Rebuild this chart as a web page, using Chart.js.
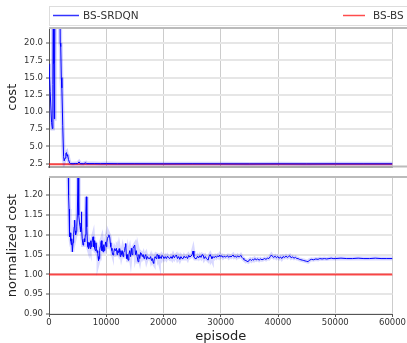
<!DOCTYPE html>
<html>
<head>
<meta charset="utf-8">
<script src="https://cdn.jsdelivr.net/npm/chart.js@4.4.1/dist/chart.umd.min.js"></script>
<style>
html, body { margin: 0; padding: 0; background: #fff; }
#wrap { position: relative; width: 407px; height: 343px; overflow: hidden; }
#chart_cost { position: absolute; left: 0; top: 0; }
#chart_norm { position: absolute; left: 0; top: 170px; }
</style>
</head>
<body>
<div id="wrap">
  <canvas id="chart_cost" width="407" height="170"></canvas>
  <canvas id="chart_norm" width="407" height="173"></canvas>
</div>
<script>
// ---- data ----
var episodeTicks = [0, 10000, 20000, 30000, 40000, 50000, 60000];
var costTicks = [2.5, 5.0, 7.5, 10.0, 12.5, 15.0, 17.5, 20.0];
var normTicks = [0.90, 0.95, 1.00, 1.05, 1.10, 1.15, 1.20];

var baselineEpisodes = [0, 60000];
var baselineCost = [2.4, 2.4];
var baselineNorm = [1.0, 1.0];

var costEpisodes = [0, 200, 450, 580, 680, 760, 820, 860, 930, 990, 1060, 1500, 1900, 1960, 2050, 2150,
  2250, 2400, 2550, 2650, 2800, 2950, 3050, 3150, 3250, 3400, 3600, 3800, 4200, 4600, 5000, 5250,
  5450, 6000, 6450, 6600, 7000, 8000, 9000, 10000, 12000, 15000, 20000, 25000, 30000, 35000, 40000,
  45000, 50000, 55000, 60000];
var costValues = [17.0, 13.0, 8.5, 7.6, 14.0, 30.0, 30.0, 17.0, 9.0, 17.0, 30.0, 40.0, 30.0, 20.0, 19.5, 15.0,
  13.5, 8.0, 3.5, 2.9, 3.3, 4.0, 4.1, 3.6, 3.8, 3.1, 2.6, 2.5, 2.48, 2.52, 2.52, 2.75,
  2.5, 2.48, 2.62, 2.5, 2.5, 2.5, 2.49, 2.5, 2.48, 2.48, 2.47, 2.48, 2.47, 2.46, 2.47,
  2.46, 2.47, 2.47, 2.47];

var normEpisodes = [3320, 3420, 3500, 3560, 3610, 3700, 3800, 3900, 3980, 4080, 4200, 4300, 4400, 4485, 4560, 4650,
  4776, 4850, 4950, 5070, 5150, 5240, 5330, 5430, 5530, 5600, 5650, 5720, 5800, 5940, 6050, 6150,
  6230, 6350, 6450, 6520, 6600, 6700, 6800, 6900, 7000, 7100, 7200, 7300, 7400, 7500, 7600, 7690,
  7800, 7900, 7980, 8100, 8200, 8300, 8400, 8500, 8560, 8650, 8740, 8850, 8950, 9050, 9150, 9250,
  9350, 9440, 9550, 9650, 9750, 9900, 10000, 10100, 10200, 10310, 10450, 10600, 10700, 10800, 10890, 11000,
  11100, 11180, 11300, 11450, 11600, 11770, 11900, 12000, 12150, 12250, 12350, 12450, 12550, 12650, 12800, 12930,
  13050, 13200, 13300, 13400, 13500, 13600, 13700, 13800, 13950, 14100, 14250, 14390, 14500, 14650, 14800, 14970,
  15100, 15250, 15400, 15550, 15700, 15850, 16000, 16140, 16300, 16450, 16600, 16720, 16900, 17050, 17200, 17400,
  17590, 17750, 17900, 18050, 18200, 18290, 18400, 18550, 18700, 18850, 19050, 19200, 19400, 19600, 19750, 19920,
  20100, 20300, 20500, 20700, 20900, 21090, 21300, 21500, 21700, 21900, 22050, 22250, 22450, 22650, 22850, 23050,
  23250, 23420, 23600, 23800, 24000, 24200, 24400, 24600, 24800, 25000, 25160, 25300, 25500, 25750, 25950, 26150,
  26350, 26550, 26750, 26910, 27100, 27300, 27500, 27650, 27790, 27950, 28150, 28300, 28450, 28660, 28850, 29050,
  29250, 29450, 29650, 29820, 30000, 30200, 30400, 30600, 30800, 30990, 31200, 31400, 31600, 31800, 32000, 32150,
  32350, 32550, 32750, 32950, 33150, 33320, 33500, 33700, 33900, 34050, 34190, 34400, 34600, 34780, 34950, 35150,
  35350, 35550, 35750, 35940, 36200, 36450, 36700, 36950, 37200, 37400, 37650, 37900, 38150, 38400, 38650, 38850,
  39050, 39250, 39500, 39730, 39950, 40200, 40450, 40650, 40890, 41150, 41400, 41650, 41850, 42060, 42300, 42550,
  42800, 43050, 43300, 43510, 43750, 44000, 44250, 44500, 44750, 45000, 45260, 45500, 45840, 46200, 46600, 47000,
  47300, 47700, 48100, 48500, 48900, 49300, 49630, 50000, 51000, 52000, 53000, 54000, 55000, 56000, 57000, 58000,
  59000, 60000];
var normValues = [1.30, 1.20, 1.165, 1.12, 1.095, 1.105, 1.085, 1.075, 1.09, 1.057, 1.08, 1.10, 1.12, 1.137, 1.11, 1.10,
  1.108, 1.12, 1.15, 1.26, 1.20, 1.15, 1.13, 1.12, 1.108, 1.13, 1.158, 1.12, 1.09, 1.074, 1.08, 1.09,
  1.082, 1.10, 1.16, 1.196, 1.12, 1.082, 1.07, 1.065, 1.08, 1.074, 1.065, 1.085, 1.07, 1.08, 1.09, 1.095,
  1.07, 1.085, 1.066, 1.06, 1.08, 1.065, 1.055, 1.06, 1.045, 1.035, 1.04, 1.06, 1.07, 1.08, 1.085, 1.06,
  1.07, 1.057, 1.075, 1.06, 1.07, 1.082, 1.07, 1.08, 1.09, 1.095, 1.10, 1.095, 1.08, 1.07, 1.066, 1.06,
  1.05, 1.049, 1.055, 1.065, 1.06, 1.066, 1.05, 1.06, 1.055, 1.065, 1.057, 1.045, 1.06, 1.05, 1.06, 1.045,
  1.055, 1.06, 1.07, 1.078, 1.05, 1.04, 1.05, 1.036, 1.05, 1.06, 1.045, 1.066, 1.05, 1.065, 1.07, 1.074,
  1.05, 1.06, 1.045, 1.032, 1.05, 1.04, 1.055, 1.053, 1.045, 1.05, 1.04, 1.045, 1.05, 1.038, 1.045, 1.04,
  1.040, 1.045, 1.035, 1.04, 1.03, 1.028, 1.04, 1.045, 1.04, 1.05, 1.049, 1.04, 1.045, 1.04, 1.048, 1.045,
  1.04, 1.045, 1.04, 1.046, 1.042, 1.040, 1.045, 1.04, 1.048, 1.042, 1.046, 1.049, 1.04, 1.045, 1.038, 1.045,
  1.04, 1.040, 1.046, 1.042, 1.045, 1.04, 1.048, 1.044, 1.046, 1.05, 1.059, 1.045, 1.04, 1.040, 1.046, 1.042,
  1.047, 1.043, 1.05, 1.049, 1.04, 1.045, 1.04, 1.038, 1.036, 1.045, 1.05, 1.045, 1.04, 1.045, 1.042, 1.046,
  1.043, 1.047, 1.044, 1.049, 1.045, 1.047, 1.043, 1.046, 1.044, 1.045, 1.047, 1.043, 1.046, 1.044, 1.047, 1.049,
  1.044, 1.046, 1.043, 1.047, 1.044, 1.045, 1.048, 1.043, 1.04, 1.038, 1.036, 1.035, 1.033, 1.032, 1.036, 1.038,
  1.035, 1.038, 1.036, 1.040, 1.037, 1.039, 1.036, 1.039, 1.037, 1.038, 1.04, 1.038, 1.041, 1.04, 1.045, 1.049,
  1.045, 1.043, 1.046, 1.042, 1.045, 1.041, 1.044, 1.04, 1.045, 1.043, 1.046, 1.043, 1.045, 1.047, 1.042, 1.044,
  1.041, 1.043, 1.04, 1.040, 1.038, 1.037, 1.036, 1.035, 1.034, 1.033, 1.032, 1.036, 1.038, 1.037, 1.039, 1.038,
  1.040, 1.039, 1.040, 1.039, 1.040, 1.041, 1.040, 1.040, 1.041, 1.040, 1.040, 1.041, 1.040, 1.040, 1.041, 1.040,
  1.040, 1.040];

// ---- helpers ----
Chart.defaults.font.family = "'DejaVu Sans', sans-serif";
Chart.defaults.color = '#333';

function points(xs, ys) {
  return xs.map(function (x, i) { return { x: x, y: ys[i] }; });
}

function series(data, color, width) {
  return { data: data, borderColor: color, borderWidth: width, pointRadius: 0, tension: 0, fill: false };
}

function xScale(showLabels) {
  return {
    type: 'linear', min: 0, max: 60000,
    afterBuildTicks: function (a) { a.ticks = episodeTicks.map(function (v) { return { value: v }; }); },
    ticks: { display: showLabels, maxRotation: 0, padding: 0.5, font: { size: 8.5 }, color: '#333',
      callback: function (v) { return String(v); } },
    grid: { color: '#cccccc', lineWidth: 1, drawTicks: showLabels, tickLength: 3, tickColor: '#555', tickWidth: 1 },
    border: showLabels ? { color: '#555', width: 1 } : { color: '#aaa', width: 2 },
    title: { display: showLabels, text: 'episode', font: { size: 13 }, color: '#222',
      padding: { top: 0, bottom: -1.5 } },
    afterFit: function (a) {
      a.height = showLabels ? 29 : 3.5;
      a.paddingLeft = 0; a.paddingRight = 0;
    }
  };
}

function yScale(min, max, tickList, digits, label) {
  return {
    type: 'linear', min: min, max: max,
    afterBuildTicks: function (a) { a.ticks = tickList.map(function (v) { return { value: v }; }); },
    ticks: { padding: 3, font: { size: 8.5 }, color: '#333',
      callback: function (v) { return v.toFixed(digits); } },
    grid: { color: '#e6e6e6', lineWidth: 2, tickLength: 3, tickColor: '#555', tickWidth: 1 },
    border: { color: '#555', width: 1 },
    title: { display: true, text: label, font: { size: 13 }, color: '#222', padding: { top: 5, bottom: 0 } },
    afterFit: function (a) {
      a.width = 49;
      a.paddingTop = 0; a.paddingBottom = 0;
    }
  };
}

var framePlugin = {
  id: 'frame',
  afterDraw: function (chart) {
    var ctx = chart.ctx, area = chart.chartArea;
    ctx.save();
    ctx.strokeStyle = '#bbbbbb';
    ctx.lineWidth = 2;
    ctx.beginPath();
    ctx.moveTo(area.left, area.top);
    ctx.lineTo(chart.width, area.top);
    if (chart.canvas.id === 'chart_cost') {
      ctx.moveTo(area.right, area.bottom);
      ctx.lineTo(chart.width, area.bottom);
    }
    ctx.stroke();
    ctx.restore();
  }
};

var legendPlugin = {
  id: 'legendBox',
  afterDraw: function (chart) {
    var ctx = chart.ctx;
    ctx.save();
    ctx.fillStyle = '#fff';
    ctx.strokeStyle = '#dddddd';
    ctx.lineWidth = 1;
    ctx.fillRect(49.5, 6.5, 400, 19);
    ctx.strokeRect(49.5, 6.5, 400, 19);
    ctx.lineWidth = 1.5;
    ctx.strokeStyle = 'rgba(0,0,255,0.8)';
    ctx.beginPath(); ctx.moveTo(53, 15.5); ctx.lineTo(79, 15.5); ctx.stroke();
    ctx.strokeStyle = 'rgba(255,0,0,0.7)';
    ctx.beginPath(); ctx.moveTo(343, 15.5); ctx.lineTo(365, 15.5); ctx.stroke();
    ctx.fillStyle = '#333';
    ctx.font = "10.5px 'DejaVu Sans'";
    ctx.textBaseline = 'middle';
    ctx.fillText('BS-SRDQN', 83, 16);
    ctx.fillText('BS-BS', 373, 16);
    ctx.restore();
  }
};

var whiteBg = {
  id: 'whiteBg',
  beforeDraw: function (chart) {
    var ctx = chart.ctx;
    ctx.save();
    ctx.fillStyle = 'white';
    ctx.fillRect(0, 0, chart.width, chart.height);
    ctx.restore();
  }
};

var chart_cost = new Chart(document.getElementById('chart_cost'), {
  type: 'line',
  data: {
    datasets: [
      series(points(costEpisodes, costValues), 'rgba(0,0,255,0.18)', 4),
      series(points(costEpisodes, costValues), '#0000ff', 1),
      series(points(baselineEpisodes, baselineCost), 'rgba(255,0,0,0.7)', 2)
    ]
  },
  options: {
    animation: false, responsive: false, parsing: false,
    layout: { padding: { top: 28, right: 14.5, left: 0, bottom: 0 } },
    plugins: { legend: { display: false }, tooltip: { enabled: false } },
    scales: { x: xScale(false), y: yScale(2.08, 22.2, costTicks, 1, 'cost') }
  },
  plugins: [whiteBg, framePlugin, legendPlugin]
});

var chart_norm = new Chart(document.getElementById('chart_norm'), {
  type: 'line',
  data: {
    datasets: [
      series(points(normEpisodes, normValues), 'rgba(0,0,255,0.15)', 4),
      series(points(normEpisodes, normValues), '#0000ff', 1),
      series(points(baselineEpisodes, baselineNorm), 'rgba(255,0,0,0.7)', 2)
    ]
  },
  options: {
    animation: false, responsive: false, parsing: false,
    layout: { padding: { top: 7, right: 14.5, left: 0, bottom: 0 } },
    plugins: { legend: { display: false }, tooltip: { enabled: false } },
    scales: { x: xScale(true), y: yScale(0.90, 1.246, normTicks, 2, 'normalized cost') }
  },
  plugins: [whiteBg, framePlugin]
});
</script>
</body>
</html>
